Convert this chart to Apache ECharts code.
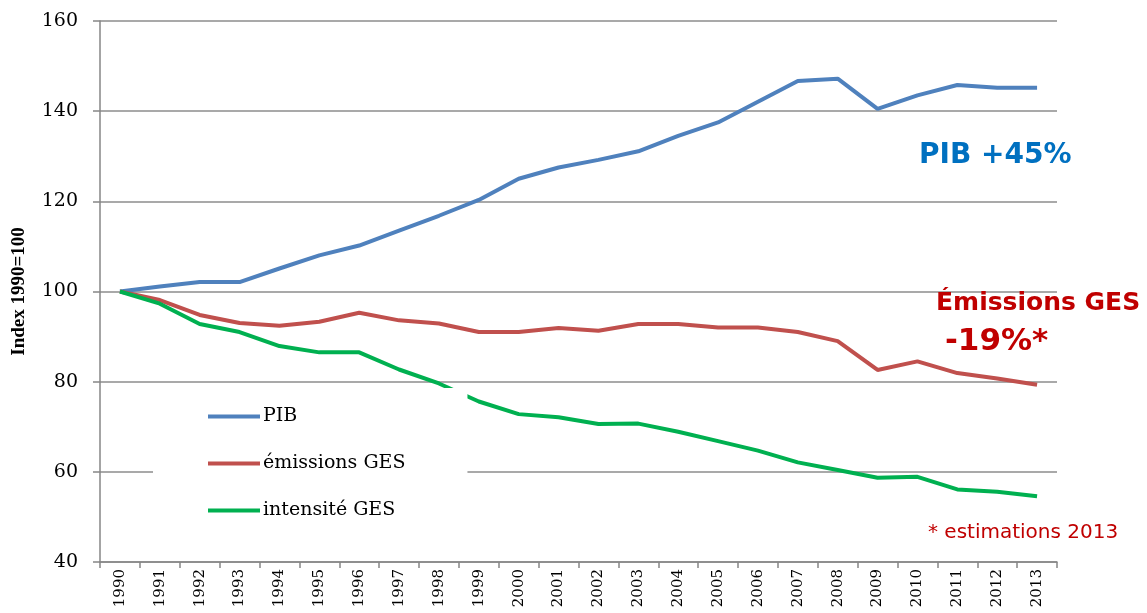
<!DOCTYPE html>
<html>
<head>
<meta charset="utf-8">
<script src="https://cdn.jsdelivr.net/npm/echarts@6/dist/echarts.min.js"></script>
<style>
html,body{margin:0;padding:0;background:#fff;}
#chart{width:1147px;height:613px;}
</style>
</head>
<body>
<div id="chart"></div>
<script>
// annees
var years = ['1990','1991','1992','1993','1994','1995','1996','1997','1998','1999','2000','2001',
	'2002','2003','2004','2005','2006','2007','2008','2009','2010','2011','2012','2013'];
// PIB, index 1990=100
var pib = [100,101.1,102.1,102.1,105.1,108.0,110.2,113.5,116.8,120.3,125.0,127.5,
	129.2,131.1,134.5,137.5,142.1,146.7,147.2,140.5,143.5,145.8,145.2,145.2];
// emissions GES
var emissions = [100,98.1,94.8,93.0,92.4,93.3,95.3,93.6,92.9,91.0,91.0,91.9,
	91.3,92.8,92.8,92.0,92.0,91.0,89.0,82.6,84.5,81.9,80.7,79.3];
// intensite GES
var intensite = [100,97.3,92.8,91.0,87.9,86.5,86.5,82.7,79.6,75.6,72.8,72.1,
	70.6,70.7,68.9,66.8,64.7,62.1,60.4,58.7,58.9,56.1,55.6,54.6];
var yTicks = [40,160,20];

var chart = echarts.init(document.getElementById('chart'));
var serif = '"DejaVu Serif", "Liberation Serif", serif';
var sans = '"DejaVu Sans", "Open Sans", sans-serif';
chart.setOption({
	animation:false,
	backgroundColor:'#fff',
	grid:{left:100,right:90,top:21,bottom:51,outerBoundsMode:'none'},
	legend:{
		orient:'vertical',
		left:153,
		top:388,
		padding:[19,62,12,55],
		backgroundColor:'#fff',
		icon:'rect',
		itemWidth:52,
		itemHeight:4,
		itemGap:28,
		textStyle:{fontFamily:serif,fontSize:19,color:'#000',padding:[0,0,0,-2]},
		data:['PIB','émissions GES','intensité GES']
	},
	xAxis:{
		type:'category',
		data:years,
		boundaryGap:true,
		axisLine:{lineStyle:{color:'#868686',width:1.5}},
		axisTick:{show:true,length:6,lineStyle:{color:'#868686',width:1.5}},
		axisLabel:{rotate:90,fontFamily:serif,fontSize:15,color:'#000',margin:7,interval:0},
		splitLine:{show:false}
	},
	yAxis:{
		type:'value',
		min:yTicks[0],
		max:yTicks[1],
		interval:yTicks[2],
		name:'Index 1990=100',
		nameLocation:'middle',
		nameRotate:90,
		nameGap:71,
		nameTextStyle:{fontFamily:'"Liberation Serif", serif',fontWeight:'bold',fontSize:19,color:'#000'},
		axisLine:{show:true,lineStyle:{color:'#868686',width:1.5}},
		axisTick:{show:true,length:7,lineStyle:{color:'#868686',width:1.5}},
		axisLabel:{fontFamily:serif,fontSize:19,color:'#000',margin:22},
		splitLine:{lineStyle:{color:'#8c8c8c',width:1.5}}
	},
	series:[
		{name:'PIB',type:'line',data:pib,symbol:'none',lineStyle:{color:'#4F81BD',width:4},itemStyle:{color:'#4F81BD'},z:3},
		{name:'émissions GES',type:'line',data:emissions,symbol:'none',lineStyle:{color:'#C0504D',width:4},itemStyle:{color:'#C0504D'},z:3},
		{name:'intensité GES',type:'line',data:intensite,symbol:'none',lineStyle:{color:'#00B050',width:4},itemStyle:{color:'#00B050'},z:3}
	],
	graphic:[
		{type:'text',left:919,top:142,z:10,style:{text:'PIB +45%',fill:'#0070C0',font:'bold 28px '+sans}},
		{type:'text',left:936,top:291,z:10,style:{text:'Émissions GES',fill:'#C00000',font:'bold 25px '+sans}},
		{type:'text',left:945,top:326,z:10,style:{text:'-19%*',fill:'#C00000',font:'bold 31px '+sans}},
		{type:'text',left:928,top:523,z:10,style:{text:'* estimations 2013',fill:'#C00000',font:'20px '+sans}}
	]
});
</script>
</body>
</html>
